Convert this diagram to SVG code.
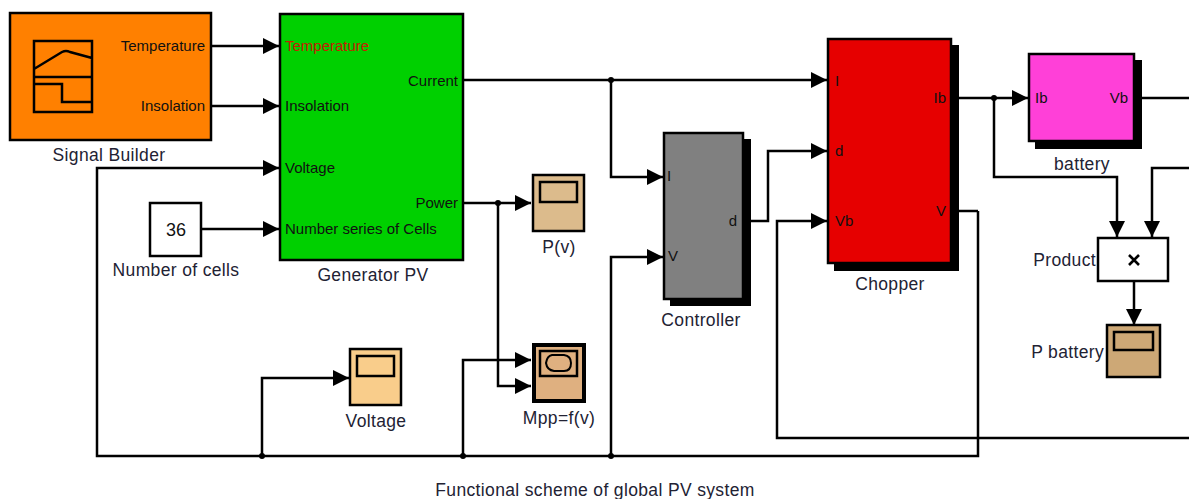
<svg xmlns="http://www.w3.org/2000/svg" width="1189" height="499" viewBox="0 0 1189 499">
<style>
text{font-family:"Liberation Sans",Arial,sans-serif;font-size:15px;fill:#111}
.p{font-size:15px}
.l{font-size:17.5px;letter-spacing:.35px;fill:#223}
.e{text-anchor:end}
.m{text-anchor:middle}
.b{stroke:#000;stroke-width:2.5}
.w{fill:none;stroke:#000;stroke-width:2.5}
</style>
<defs>
<marker id="a" markerUnits="userSpaceOnUse" markerWidth="17" markerHeight="17" refX="16" refY="8" orient="auto"><path d="M0 0L16 8L0 16Z" fill="#000"/></marker>
</defs>
<rect width="1189" height="499" fill="#fff"/>
<g id="connectors" class="conn">
<path class="w" marker-end="url(#a)" d="M212 46H279"/>
<path class="w" marker-end="url(#a)" d="M212 106H279"/>
<path class="w" marker-end="url(#a)" d="M202 229H279"/>
<path class="w" marker-end="url(#a)" d="M978 211V456H97V168H279"/>
<path class="w" marker-end="url(#a)" d="M464 80H827"/>
<path class="w" marker-end="url(#a)" d="M611 80V177H663"/>
<path class="w" marker-end="url(#a)" d="M611 456V257H663"/>
<path class="w" marker-end="url(#a)" d="M464 203H531"/>
<path class="w" marker-end="url(#a)" d="M498 203V386H531"/>
<path class="w" marker-end="url(#a)" d="M463 456V360H531"/>
<path class="w" marker-end="url(#a)" d="M262 456V378H349"/>
<path class="w" marker-end="url(#a)" d="M751 221H768V151H827"/>
<path class="w" marker-end="url(#a)" d="M1189 438H777V221H827"/>
<path class="w" marker-end="url(#a)" d="M959 98H1028"/>
<path class="w" d="M1142 98H1189"/>
<path class="w" d="M959 211H978"/>
<path class="w" marker-end="url(#a)" d="M994 98V177H1117V237"/>
<path class="w" marker-end="url(#a)" d="M1189 168H1152V237"/>
<path class="w" marker-end="url(#a)" d="M1134 281V325"/>
<circle cx="611" cy="80" r="3"/><circle cx="498" cy="203" r="3"/><circle cx="463" cy="456" r="3"/><circle cx="262" cy="456" r="3"/><circle cx="611" cy="456" r="3"/><circle cx="994" cy="98" r="3"/>
</g>
<g id="signal-builder">
<rect class="b" x="10" y="13" width="201" height="127" fill="#ff8000"/>
<path class="w" d="M34 41H92V112H34ZM34 77H92M34 69L62 52Q66 50 70 52L92 58M34 84H62V102H92"/>
<text class="p e" x="205" y="51">Temperature</text>
<text class="p e" x="205" y="111">Insolation</text>
<text class="l m" x="109" y="161">Signal Builder</text>
</g>
<g id="generator-pv">
<rect class="b" x="280" y="14" width="183" height="246" fill="#00d000"/>
<text class="p" x="285" y="51" style="fill:#c62000">Temperature</text>
<text class="p" x="285" y="111">Insolation</text>
<text class="p" x="285" y="173">Voltage</text>
<text class="p" x="285" y="234">Number series of Cells</text>
<text class="p e" x="458" y="86">Current</text>
<text class="p e" x="458" y="208">Power</text>
<text class="l m" x="373" y="281">Generator PV</text>
</g>
<g id="number-of-cells">
<rect class="b" x="150" y="203" width="51" height="53" fill="#fff"/>
<text class="m" x="176" y="236" style="font-size:18px">36</text>
<text class="l m" x="176" y="276">Number of cells</text>
</g>
<g id="scope-pv">
<rect class="b" x="533" y="175" width="51" height="56" fill="#dcbb8c"/>
<rect class="b" x="540" y="182" width="37" height="20" fill="#dcbb8c"/>
<text class="l m" x="559" y="253">P(v)</text>
</g>
<g id="scope-voltage">
<rect class="b" x="350" y="349" width="51" height="56" fill="#f9cd8b"/>
<rect class="b" x="357" y="356" width="37" height="20" fill="#f9cd8b"/>
<text class="l m" x="376" y="427">Voltage</text>
</g>
<g id="scope-mpp">
<rect x="534" y="345" width="50" height="56" fill="#dfb080" stroke="#000" stroke-width="4"/>
<rect class="b" x="540" y="351" width="37" height="25" fill="#dfb080"/>
<path fill="none" stroke="#000" stroke-width="2" d="M552 355H564Q571 356 571 363Q571 371 564 371H554Q547 370 546 363Q547 356 552 355Z"/>
<text class="l m" x="559" y="424">Mpp=f(v)</text>
</g>
<g id="controller">
<rect x="670" y="139" width="81" height="167"/>
<rect class="b" x="664" y="133" width="79" height="166" fill="#808080"/>
<text class="p" x="667" y="181">I</text>
<text class="p" x="668" y="261">V</text>
<text class="p e" x="737" y="226">d</text>
<text class="l m" x="701" y="326">Controller</text>
</g>
<g id="chopper">
<rect x="834" y="45" width="125" height="226"/>
<rect class="b" x="828" y="39" width="123" height="224" fill="#e60000"/>
<text class="p" x="835" y="86">I</text>
<text class="p" x="835" y="156">d</text>
<text class="p" x="835" y="226">Vb</text>
<text class="p e" x="946" y="103">Ib</text>
<text class="p e" x="946" y="216">V</text>
<text class="l m" x="890" y="290">Chopper</text>
</g>
<g id="battery">
<rect x="1035" y="60" width="107" height="89"/>
<rect class="b" x="1029" y="54" width="105" height="87" fill="#ff40d8"/>
<text class="p" x="1035" y="103">Ib</text>
<text class="p e" x="1128" y="103">Vb</text>
<text class="l m" x="1082" y="170">battery</text>
</g>
<g id="product">
<rect class="b" x="1098" y="238" width="70" height="43" fill="#fff"/>
<path d="M1129 255L1139 265M1139 255L1129 265" stroke="#000" stroke-width="2.6" fill="none"/>
<text class="l e" x="1096" y="266">Product</text>
</g>
<g id="p-battery">
<rect class="b" x="1107" y="325" width="53" height="52" fill="#cda876"/>
<rect class="b" x="1114" y="332" width="39" height="18" fill="#cda876"/>
<text class="l e" x="1104" y="358">P battery</text>
</g>
<text class="l m" x="595" y="496">Functional scheme of global PV system</text>
</svg>
